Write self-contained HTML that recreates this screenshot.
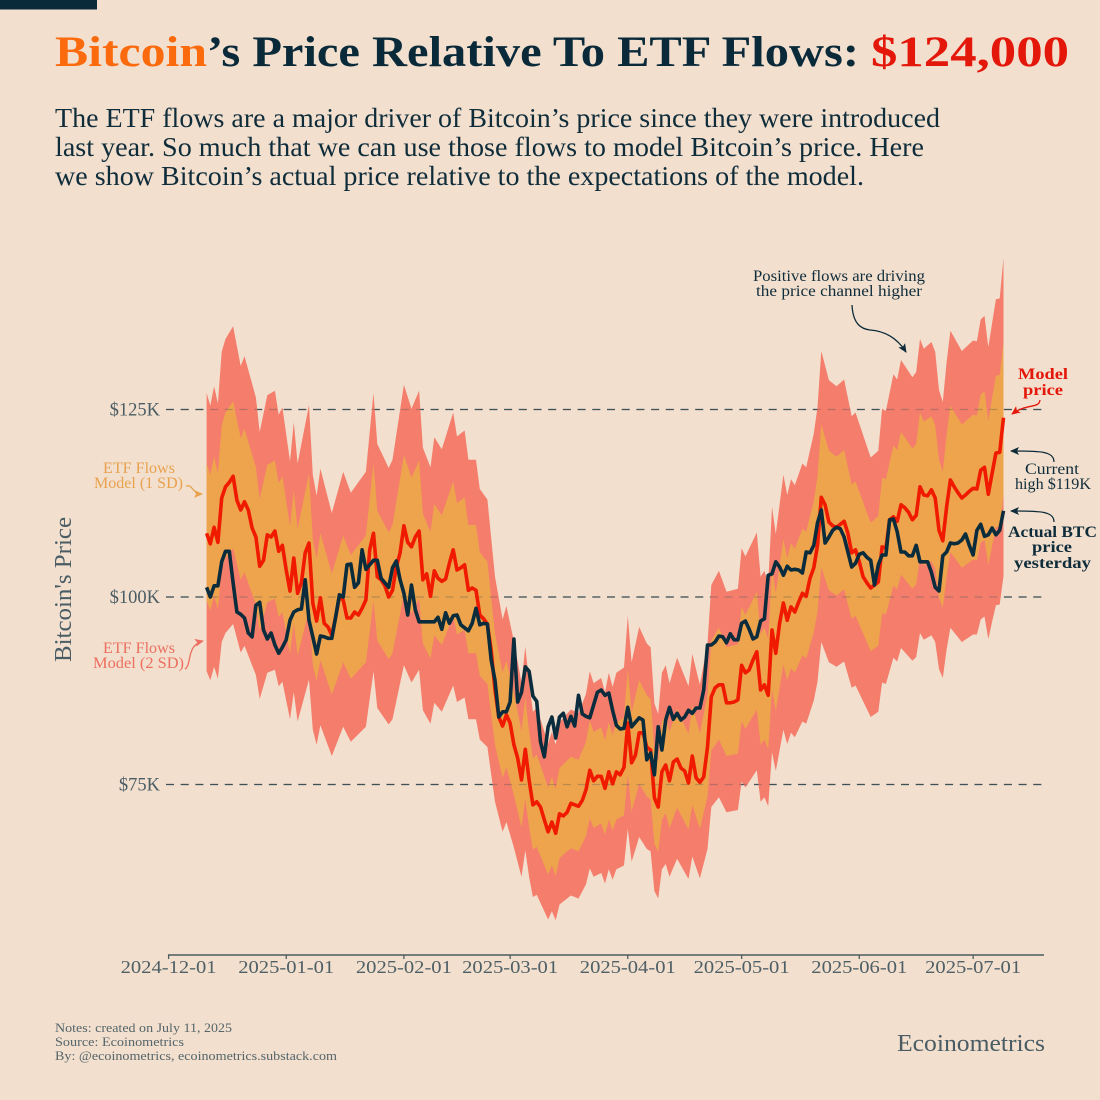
<!DOCTYPE html>
<html lang="en">
<head>
<meta charset="utf-8">
<title>Bitcoin's Price Relative To ETF Flows</title>
<style>
html,body{margin:0;padding:0;background:#f2dfce;}
svg{display:block;width:1100px;height:1100px;}
text{font-family:"Liberation Serif",serif;}
</style>
</head>
<body>
<svg id="chart" xmlns="http://www.w3.org/2000/svg" width="1100" height="1100" viewBox="0 0 1100 1100">
  <defs>
    <marker id="head-dark" markerWidth="9" markerHeight="8" refX="8" refY="4" orient="auto" markerUnits="userSpaceOnUse"><path d="M0,0 L9,4 L0,8 L2,4 Z" fill="#0f2c3a"/></marker>
    <marker id="head-red" markerWidth="9" markerHeight="8" refX="8" refY="4" orient="auto" markerUnits="userSpaceOnUse"><path d="M0,0 L9,4 L0,8 L2,4 Z" fill="#e3170a"/></marker>
    <marker id="head-orange" markerWidth="9" markerHeight="8" refX="8" refY="4" orient="auto" markerUnits="userSpaceOnUse"><path d="M0,0 L9,4 L0,8 L2,4 Z" fill="#e8a24e"/></marker>
    <marker id="head-pink" markerWidth="9" markerHeight="8" refX="8" refY="4" orient="auto" markerUnits="userSpaceOnUse"><path d="M0,0 L9,4 L0,8 L2,4 Z" fill="#ec6f5f"/></marker>
  </defs>
  <rect x="0" y="0" width="1100" height="1100" fill="#f2dfce"/>
  <rect x="0" y="0" width="97" height="9.5" fill="#0a2a3a"/>

  <g font-size="43" font-weight="bold">
    <text x="55" y="66" fill="#fb6a0c" textLength="152" lengthAdjust="spacingAndGlyphs">Bitcoin</text>
    <text x="207" y="66" fill="#0a2a3a" textLength="652" lengthAdjust="spacingAndGlyphs">’s Price Relative To ETF Flows:</text>
    <text x="871" y="66" fill="#e3170a" textLength="198" lengthAdjust="spacingAndGlyphs">$124,000</text>
  </g>

  <g font-size="27" fill="#0f2c3a">
    <text x="55" y="127" textLength="885" lengthAdjust="spacingAndGlyphs">The ETF flows are a major driver of Bitcoin’s price since they were introduced</text>
    <text x="55" y="156" textLength="869" lengthAdjust="spacingAndGlyphs">last year. So much that we can use those flows to model Bitcoin’s price. Here</text>
    <text x="55" y="185" textLength="809" lengthAdjust="spacingAndGlyphs">we show Bitcoin’s actual price relative to the expectations of the model.</text>
  </g>

  <g id="grid"></g>
  <g id="bands"></g>
  <g id="grid-over"></g>
  <g id="lines"></g>
  <g id="yaxis"></g>
  <g id="xaxis"></g>

  <text transform="translate(71,662) rotate(-90)" font-size="24" fill="#4a5c64" textLength="145" lengthAdjust="spacingAndGlyphs">Bitcoin's Price</text>

  <g font-size="15.5" fill="#e8a24e">
    <text x="103" y="473" textLength="72" lengthAdjust="spacingAndGlyphs">ETF Flows</text>
    <text x="94" y="488" textLength="89" lengthAdjust="spacingAndGlyphs">Model (1 SD)</text>
    <path d="M186,486 C193,484 192,494 202,494" fill="none" stroke="#e8a24e" stroke-width="1.3" marker-end="url(#head-orange)"/>
  </g>
  <g font-size="15.5" fill="#ec6f5f">
    <text x="103" y="653" textLength="72" lengthAdjust="spacingAndGlyphs">ETF Flows</text>
    <text x="93" y="668" textLength="91" lengthAdjust="spacingAndGlyphs">Model (2 SD)</text>
    <path d="M185,669 C192,665 186,645 203,641" fill="none" stroke="#ec6f5f" stroke-width="1.3" marker-end="url(#head-pink)"/>
  </g>

  <g font-size="15.5" fill="#0f2c3a">
    <text x="753" y="281" textLength="172" lengthAdjust="spacingAndGlyphs">Positive flows are driving</text>
    <text x="756" y="296" textLength="166" lengthAdjust="spacingAndGlyphs">the price channel higher</text>
    <path d="M852,305 C853,325 862,329 870,330 C885,331 897,338 906,352" fill="none" stroke="#0f2c3a" stroke-width="1.3" marker-end="url(#head-dark)"/>
  </g>
  <g font-size="15.5" font-weight="bold" fill="#e3170a">
    <text x="1018" y="379" textLength="50" lengthAdjust="spacingAndGlyphs">Model</text>
    <text x="1023" y="395" textLength="40" lengthAdjust="spacingAndGlyphs">price</text>
    <path d="M1040,400 C1039,409 1027,403 1012,414" fill="none" stroke="#e3170a" stroke-width="1.3" marker-end="url(#head-red)"/>
  </g>
  <g font-size="15.5" fill="#0f2c3a">
    <text x="1025" y="474" textLength="54" lengthAdjust="spacingAndGlyphs">Current</text>
    <text x="1015" y="489" textLength="76" lengthAdjust="spacingAndGlyphs">high $119K</text>
    <path d="M1054,462 C1054,451 1040,451 1011,451" fill="none" stroke="#0f2c3a" stroke-width="1.3" marker-end="url(#head-dark)"/>
  </g>
  <g font-size="15.5" font-weight="bold" fill="#0f2c3a">
    <text x="1008" y="537" textLength="89" lengthAdjust="spacingAndGlyphs">Actual BTC</text>
    <text x="1032" y="552" textLength="40" lengthAdjust="spacingAndGlyphs">price</text>
    <text x="1014" y="568" textLength="77" lengthAdjust="spacingAndGlyphs">yesterday</text>
    <path d="M1054,522 C1054,511 1040,511 1011,511" fill="none" stroke="#0f2c3a" stroke-width="1.3" marker-end="url(#head-dark)"/>
  </g>

  <g font-size="13" fill="#55656a">
    <text x="55" y="1032" textLength="177" lengthAdjust="spacingAndGlyphs">Notes: created on July 11, 2025</text>
    <text x="55" y="1046" textLength="129" lengthAdjust="spacingAndGlyphs">Source: Ecoinometrics</text>
    <text x="55" y="1060" textLength="282" lengthAdjust="spacingAndGlyphs">By: @ecoinometrics, ecoinometrics.substack.com</text>
  </g>
  <text x="897" y="1051" font-size="24" fill="#4a5c64" textLength="148" lengthAdjust="spacingAndGlyphs">Ecoinometrics</text>
</svg>

<script>
// ---- Data (USD thousands, one model/actual value per calendar day from firstDate) ----
const firstDate = "2024-12-11";
const xTickLabels = ["2024-12-01","2025-01-01","2025-02-01","2025-03-01","2025-04-01","2025-05-01","2025-06-01","2025-07-01"];
const yTickValues = [125,100,75];
const yTickLabels = ["$125K","$100K","$75K"];

const modelPrice = [
108.5,107.1,109.3,107.3,113.2,114.7,115.3,116.1,112.9,111.6,
112.7,111.6,109.2,108,104.1,104.9,108.3,108,108.8,106.1,
106.9,103.6,100.8,105.2,100.5,101.9,105.9,107.2,99.2,96.8,
99.9,96.5,96,94.9,97.3,100,99.6,97.2,97.2,98,
97.6,98.5,99.6,106.3,108.5,102.7,102.3,101.5,100,100.9,
104,105.9,109.5,107.3,106.7,108,108.8,102.3,103.1,100.1,
103.5,102.5,102.1,102.4,104.5,106.3,103.6,103.9,104.3,100.9,
101.2,100.9,97.6,97.1,96.4,92.9,87.6,84,82.8,84.3,
83.2,80.3,78.5,75.6,79.7,75.6,72.3,72.7,72,70.3,
68.7,70,68.5,71.1,70.8,71.3,72.5,72.3,72.1,72.9,
74.3,76.9,75.5,76.1,76.1,74.5,76.7,75.1,76.7,76.3,
77.3,83.2,77.9,78.9,81.9,81.9,80,79.6,73.2,72,
76.7,77.6,75.5,78,78.4,77.2,76.8,75.2,78.8,75.9,
75.3,76,80,86.7,87.9,88.3,88.3,85.9,85.9,86,
86.3,90.9,89.9,90.3,91.6,92.7,87.6,88.3,86.9,95.6,
92.5,96.5,99.2,96.9,98.7,98,99.3,100.5,100.1,102.5,
103.9,106.9,113.3,112.3,110,109.5,109.3,109.7,110.1,108.5,
105.9,106.3,104.7,102.7,101.9,101.2,101.6,102,106.7,106.5,
110.3,110.7,110.1,112.3,111.9,111.3,110.3,110.9,114.7,113.6,
113.5,114.3,113.2,108.9,107.5,112,115.6,114.7,113.9,113.2,
113.6,114.1,114.5,114.4,116.9,117.3,113.7,116.5,119.2,119.3,123.9];

const actualPrice = [
101.3,100,101.5,101.5,104.7,106.1,106.1,101.9,98,97.7,
97.2,95.2,94.7,98.9,99.3,95.6,94.4,95.2,93.6,92.5,
93.3,94.3,96.9,98,98.3,98.4,102.3,96.9,94.7,92.4,
94.8,94.7,94.5,94.5,97.3,100.3,100,104.3,104.4,101.3,
101.9,106.3,103.7,104.3,104.9,104.9,102.5,101.9,101.3,103.9,
104.8,102.3,100.5,97.6,101.6,98.3,96.7,96.7,96.7,96.7,
96.7,97.3,95.7,97.9,96.5,97.5,97.6,96.3,95.9,95.5,
96.5,98.5,96.3,96.5,96.4,91.6,88.9,84,84.7,84.7,
86,94.4,86,87.3,90.7,90.1,86.8,86.1,80.7,78.7,
82.7,84,81.2,84,84.5,82.7,84.1,82.8,86.9,84.4,
84.1,83.9,85.6,87.3,87.6,86.9,87.2,84.9,82.9,82.4,
82.5,85.3,82.7,83.3,83.9,83.6,78.3,79.2,76.3,82.7,
79.6,83.6,85.3,83.7,84.5,83.6,84,84.9,84.5,85.2,
85.2,87.6,93.6,93.6,94,94.8,94.7,93.9,95.1,94.3,
94.3,96.5,96.8,95.7,94.4,94.7,96.8,97.1,102.9,103.1,
104.7,104,102.9,104.1,103.6,103.7,103.6,103.2,106,105.9,
106.9,109.9,111.6,107.2,108,108.9,109.3,109.1,108,106,
104,104.5,105.7,105.9,105.3,104.9,101.6,104.3,105.6,105.6,
110.3,110.4,108.7,106,106,105.5,105.5,106.9,104.7,104.7,
104.7,103.3,101.3,100.8,105.5,106,107.2,107.1,107.2,107.6,
108.4,106.9,105.6,108.9,109.7,108.1,108.3,109.2,108.3,108.9,111.5];

// Band edges are read at the turning points of the channel (days since firstDate).
const bandDays = [0,1,2,3,4,5,7,9,10,13,14,16,18,19,20,22,23,24,27,28,29,30,33,36,38,42,44,45,48,49,52,54,56,57,59,60,62,65,66,68,69,71,72,74,76,78,79,81,83,84,85,86,87,90,91,92,93,96,98,100,101,102,104,105,106,107,108,110,111,112,114,116,117,118,119,120,121,122,124,127,128,130,132,133,135,137,140,141,142,145,146,147,148,149,150,152,153,154,155,157,158,160,161,162,164,166,168,170,171,175,177,178,179,181,182,183,186,187,188,189,191,192,193,194,195,196,199,202,203,204,205,206,207,208,209,210];

const upper2sd = [127.2,125.5,128.1,125.8,132.7,134.4,136.1,130.8,132.1,126.6,122,126.9,127.5,124.3,125.3,118.1,123.3,117.8,125.6,116.3,113.5,117.1,111.2,116.7,113.9,116.7,127.2,120.4,117.2,118.3,128.3,125.1,127.5,119.9,117.3,121.3,119.7,124.6,121.4,122.2,118.3,118.3,114.4,113,102.7,97,98.8,94.1,88.6,93.4,88.6,84.7,85.2,80.5,82,80.3,83.3,85,84.5,87.1,90.1,88.5,89.2,87.3,89.9,88,89.9,90.6,97.5,91.3,96,93.8,93.3,85.8,84.4,89.9,90.9,88.5,91.9,88.1,92.4,88.3,93.8,101.6,103.5,100.7,101.1,106.5,105.4,108.6,102.7,103.5,101.8,112,108.4,116.3,113.6,115.7,114.9,117.8,117.3,121.8,125.3,132.8,128.9,128.1,129,124.1,124.6,118.6,119.5,125.1,124.8,129.7,129,131.6,129.3,130,134.4,133.1,134,132.7,127.6,126,131.3,135.5,132.8,134.2,134.1,137,137.5,133.3,136.5,139.7,139.8,145.2];

const upper1sd = [117.8,116.3,118.7,116.5,122.9,124.6,126.1,121.2,122.4,117.3,113.1,117.6,118.2,115.2,116.1,109.5,114.2,109.1,116.4,107.7,105.1,108.5,103.1,108.2,105.6,108.2,117.8,111.5,108.6,109.6,118.9,115.9,118.2,111.1,108.7,112.4,110.9,115.4,112.5,113.3,109.6,109.6,106,104.7,95.1,89.9,91.5,87.2,82.1,86.6,82.1,78.5,79,74.6,76,74.4,77.2,78.7,78.3,80.7,83.5,82,82.6,80.9,83.3,81.6,83.3,83.9,90.4,84.6,88.9,86.9,86.4,79.5,78.2,83.3,84.3,82,85.1,81.7,85.6,81.8,86.9,94.2,95.9,93.3,93.7,98.7,97.6,100.7,95.1,95.9,94.4,103.8,100.5,107.7,105.2,107.2,106.4,109.1,108.7,112.8,116.1,123,119.5,118.7,119.6,115,115.4,109.9,110.8,115.9,115.7,120.2,119.6,122,119.8,120.4,124.6,123.4,124.1,122.9,118.3,116.7,121.6,125.5,123,124.3,124.2,127,127.4,123.5,126.5,129.5,129.6,134];

const lower1sd = [99.5,98.2,100.2,98.4,103.8,105.2,106.5,102.3,103.3,99,95.5,99.3,99.8,97.3,98,92.4,96.5,92.2,98.3,91,88.8,91.6,87,91.3,89.1,91.3,99.5,94.2,91.7,92.5,100.4,97.8,99.8,93.8,91.8,94.9,93.6,97.5,95,95.6,92.5,92.5,89.5,88.4,80.3,75.9,77.3,73.6,69.3,73.1,69.3,66.3,66.7,63,64.2,62.8,65.2,66.5,66.1,68.1,70.5,69.2,69.8,68.3,70.3,68.9,70.3,70.9,76.3,71.4,75.1,73.4,73,67.1,66,70.3,71.2,69.2,71.9,69,72.3,69.1,73.4,79.5,81,78.8,79.1,83.4,82.4,85,80.3,81,79.7,87.7,84.8,91,88.9,90.5,89.9,92.2,91.8,95.3,98,103.9,100.9,100.2,101,97.1,97.5,92.8,93.5,97.8,97.7,101.5,101,103,101.1,101.7,105.2,104.2,104.8,103.8,99.9,98.6,102.7,106,103.9,105,104.9,107.2,107.6,104.3,106.8,109.3,109.4,113.6];

const lower2sd = [90.1,88.9,90.7,89.1,94,95.2,96.4,92.6,93.5,89.6,86.4,89.9,90.3,88.1,88.7,83.7,87.3,83.4,89,82.3,80.3,82.9,78.8,82.7,80.7,82.7,90.1,85.2,83,83.7,90.9,88.6,90.3,84.9,83.1,85.9,84.7,88.2,86,86.6,83.7,83.7,81,80,72.7,68.7,70,66.6,62.7,66.2,62.7,60,60.3,57,58.1,56.9,59,60.2,59.8,61.7,63.8,62.7,63.2,61.8,63.7,62.3,63.7,64.2,69.1,64.7,68,66.4,66.1,60.8,59.8,63.7,64.4,62.7,65.1,62.4,65.4,62.5,66.4,72,73.3,71.3,71.6,75.4,74.6,76.9,72.7,73.3,72.1,79.3,76.8,82.3,80.4,81.9,81.3,83.4,83.1,86.2,88.7,94,91.3,90.7,91.4,87.9,88.2,84,84.7,88.6,88.4,91.9,91.4,93.2,91.5,92,95.2,94.3,94.9,94,90.4,89.2,93,95.9,94,95,95,97,97.4,94.4,96.7,98.9,99,102.8];

// ---- Axis functions ----
const SVG_NS = "http://www.w3.org/2000/svg";
const MS_DAY = 86400000;
const axisStart = Date.UTC(2024, 11, 1);
function dateToDay(s) {
  const p = s.split("-").map(Number);
  return (Date.UTC(p[0], p[1] - 1, p[2]) - axisStart) / MS_DAY;
}
function xScale(day) { return 168.6 + 3.795 * day; }
function yScale(v) { return 597 - (v - 100) * 7.5; }
const firstDay = dateToDay(firstDate);

function make(tag, parent, attrs) {
  const el = document.createElementNS(SVG_NS, tag);
  for (const k in attrs) el.setAttribute(k, attrs[k]);
  parent.appendChild(el);
  return el;
}
function linePath(values) {
  return values.map((v, i) => (i ? "L" : "M") + xScale(firstDay + i).toFixed(1) + "," + yScale(v).toFixed(1)).join(" ");
}
function areaPath(days, top, bottom) {
  const up = days.map((d, i) => xScale(firstDay + d).toFixed(1) + "," + yScale(top[i]).toFixed(1));
  const down = days.map((d, i) => xScale(firstDay + d).toFixed(1) + "," + yScale(bottom[i]).toFixed(1)).reverse();
  return "M" + up.join(" L") + " L" + down.join(" L") + " Z";
}

// ---- Gridlines (full strength under the bands, faint over them) ----
const gridG = document.getElementById("grid");
const gridOverG = document.getElementById("grid-over");
yTickValues.forEach(function (v) {
  const g = make("line", gridG, {x1: 166, x2: 1044, y1: yScale(v), y2: yScale(v), stroke: "#3f5158", "stroke-width": 1.3, "stroke-dasharray": "8 6.7"});
  
  
  const o = make("line", gridOverG, {x1: 166, x2: 1044, y1: yScale(v), y2: yScale(v), stroke: "#3f5158", "stroke-width": 1.3, "stroke-dasharray": "8 6.7", "stroke-opacity": 0.32});
  
  
});

// ---- Bands ----
const bandsG = document.getElementById("bands");
const band2 = make("path", bandsG, {d: areaPath(bandDays, upper2sd, lower2sd), fill: "#f47d6c"});


const band1 = make("path", bandsG, {d: areaPath(bandDays, upper1sd, lower1sd), fill: "#eea44c"});



// ---- Lines ----
const linesG = document.getElementById("lines");
const modelLine = make("path", linesG, {d: linePath(modelPrice), fill: "none", stroke: "#f01a00", "stroke-width": 3.6, "stroke-linejoin": "round", "stroke-linecap": "butt"});


const actualLine = make("path", linesG, {d: linePath(actualPrice), fill: "none", stroke: "#0a2c3c", "stroke-width": 3.6, "stroke-linejoin": "round", "stroke-linecap": "butt"});



// ---- Y axis labels ----
const yG = document.getElementById("yaxis");
yTickLabels.forEach(function (label, i) {
  const t = make("text", yG, {x: 160, y: yScale(yTickValues[i]) + 6, "text-anchor": "end", "font-size": 18.5, fill: "#4a5c64"});
  t.textContent = label;
  
  
});

// ---- X axis ----
const xG = document.getElementById("xaxis");
const axisLine = make("line", xG, {x1: 168, x2: 1044, y1: 955, y2: 955, stroke: "#4a5c60", "stroke-width": 1.5});


xTickLabels.forEach(function (label) {
  const x = xScale(dateToDay(label));
  const tick = make("line", xG, {x1: x, x2: x, y1: 955, y2: 959, stroke: "#4a5c60", "stroke-width": 1.3});
  
  
  const t = make("text", xG, {x: x, y: 973, "text-anchor": "middle", "font-size": 18, fill: "#4f6066", textLength: 96, lengthAdjust: "spacingAndGlyphs"});
  t.textContent = label;
  
  
});
</script>
</body>
</html>
